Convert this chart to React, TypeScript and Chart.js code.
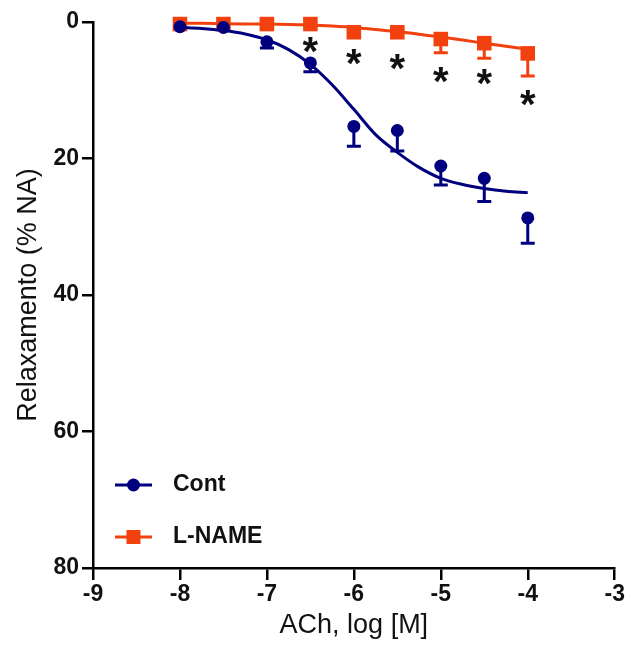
import { useEffect, useRef } from "react";
import { Chart, registerables } from "chart.js";

Chart.register(...registerables);

// Concentrations (log M) at which responses were measured
const doses = [-8, -7.5, -7, -6.5, -6, -5.5, -5, -4.5, -4];

// Cont: mean response and end of (one-sided) SEM bar
const contMean = [0.7, 0.8, 2.9, 6.0, 15.3, 15.9, 21.1, 22.9, 28.7];
const contErrEnd = [0.7, 0.8, 3.8, 7.3, 18.2, 18.9, 23.9, 26.3, 32.4];

// L-NAME: mean response and end of SEM bar
const lnameMean = [0.3, 0.3, 0.3, 0.3, 1.5, 1.5, 2.5, 3.1, 4.6];
const lnameErrEnd = [0.3, 0.3, 0.3, 0.3, 1.5, 1.5, 4.5, 5.3, 7.9];

// Fitted curves
const fitX = [-8, -7.75, -7.5, -7.25, -7, -6.75, -6.5, -6.25, -6, -5.75, -5.5, -5.25, -5, -4.75, -4.5, -4.25, -4];
const contFit = [0.8, 0.95, 1.25, 1.75, 2.6, 4.05, 6.2, 9.2, 12.8, 16.5, 19.1, 21.3, 22.9, 23.8, 24.4, 24.8, 25.0];
const lnameFit = [0.2, 0.2, 0.25, 0.28, 0.3, 0.35, 0.45, 0.6, 0.8, 1.1, 1.4, 1.8, 2.2, 2.65, 3.1, 3.55, 4.0];

// Significance asterisks
const starDoses = [-6.5, -6, -5.5, -5, -4.5, -4];
const starLevels = [3.4, 5.1, 5.9, 7.7, 8.1, 11.2];

// Axes
const xMin = -9;
const xMax = -3;
const yMin = 0;
const yMax = 80;

const NAVY = "#00007f";
const RED = "#f2400e";
const FONT = "'Liberation Sans', Arial, Helvetica, sans-serif";

const seriesNames = ["Cont", "L-NAME"];

function toPoints(xs: number[], ys: number[]) {
  return xs.map((x, i) => ({ x, y: ys[i] }));
}

const overlayPlugin = {
  id: "overlay",
  beforeDatasetsDraw(chart: any) {
    const { ctx, scales } = chart;
    const xs = scales.x;
    const ys = scales.y;
    const drawErr = (means: number[], ends: number[], color: string) => {
      ctx.save();
      ctx.strokeStyle = color;
      ctx.lineWidth = 3;
      ctx.lineCap = "butt";
      doses.forEach((d, i) => {
        if (ends[i] === means[i]) return;
        const px = xs.getPixelForValue(d);
        const p0 = ys.getPixelForValue(means[i]);
        const p1 = ys.getPixelForValue(ends[i]);
        ctx.beginPath();
        ctx.moveTo(px, p0);
        ctx.lineTo(px, p1);
        ctx.moveTo(px - 7, p1);
        ctx.lineTo(px + 7, p1);
        ctx.stroke();
      });
      ctx.restore();
    };
    drawErr(lnameMean, lnameErrEnd, RED);
    drawErr(contMean, contErrEnd, NAVY);
  },
  afterDatasetsDraw(chart: any) {
    const { ctx, scales, chartArea } = chart;
    const xs = scales.x;
    const ys = scales.y;
    ctx.save();
    // asterisks
    ctx.fillStyle = "#111";
    ctx.font = `bold 40px ${FONT}`;
    ctx.textAlign = "center";
    ctx.textBaseline = "alphabetic";
    const m = ctx.measureText("*");
    const off = (m.actualBoundingBoxDescent - m.actualBoundingBoxAscent) / 2;
    starDoses.forEach((d, i) => {
      const px = xs.getPixelForValue(d);
      const py = ys.getPixelForValue(starLevels[i]);
      ctx.fillText("*", px, py - off);
    });

    // legend
    const lx0 = chartArea.left + 22;
    const lx1 = chartArea.left + 59;
    const lmid = (lx0 + lx1) / 2;
    const rows = [chartArea.bottom - 83, chartArea.bottom - 31];
    const colors = [NAVY, RED];
    rows.forEach((ry, i) => {
      ctx.strokeStyle = colors[i];
      ctx.fillStyle = colors[i];
      ctx.lineWidth = 3;
      ctx.beginPath();
      ctx.moveTo(lx0, ry);
      ctx.lineTo(lx1, ry);
      ctx.stroke();
      if (i === 0) {
        ctx.beginPath();
        ctx.arc(lmid, ry, 6.5, 0, Math.PI * 2);
        ctx.fill();
      } else {
        ctx.fillRect(lmid - 7, ry - 7, 14, 14);
      }
      ctx.fillStyle = "#111";
      ctx.font = `bold 23px ${FONT}`;
      ctx.textAlign = "left";
      ctx.textBaseline = "middle";
      ctx.fillText(seriesNames[i], chartArea.left + 80, ry);
    });
    ctx.restore();
  },
};

export default function App() {
  const canvasRef = useRef<HTMLCanvasElement | null>(null);

  useEffect(() => {
    document.body.style.margin = "0";
    const canvas = canvasRef.current;
    if (!canvas) return;
    const chart = new Chart(canvas, {
      type: "line",
      data: {
        datasets: [
          {
            label: "Cont",
            data: toPoints(doses, contMean),
            showLine: false,
            pointStyle: "circle",
            pointRadius: 6.5,
            pointBackgroundColor: NAVY,
            pointBorderColor: NAVY,
            pointBorderWidth: 0,
            borderColor: NAVY,
            clip: false,
          } as any,
          {
            label: "Cont fit",
            data: toPoints(fitX, contFit),
            borderColor: NAVY,
            borderWidth: 3,
            pointRadius: 0,
            cubicInterpolationMode: "monotone",
            clip: false,
          } as any,
          {
            label: "L-NAME",
            data: toPoints(doses, lnameMean),
            showLine: false,
            pointStyle: "rect",
            pointRadius: 10.3,
            pointBackgroundColor: RED,
            pointBorderColor: RED,
            pointBorderWidth: 0,
            borderColor: RED,
            clip: false,
          } as any,
          {
            label: "L-NAME fit",
            data: toPoints(fitX, lnameFit),
            borderColor: RED,
            borderWidth: 3,
            pointRadius: 0,
            cubicInterpolationMode: "monotone",
            clip: false,
          } as any,
        ],
      },
      options: {
        animation: false,
        responsive: true,
        maintainAspectRatio: false,
        events: [],
        layout: { padding: { top: 22, right: 9, left: 0, bottom: 0 } },
        plugins: {
          legend: { display: false },
          tooltip: { enabled: false },
        },
        scales: {
          x: {
            type: "linear",
            min: xMin,
            max: xMax,
            ticks: {
              stepSize: 1,
              color: "#111",
              font: { family: FONT, size: 23, weight: "bold" },
              padding: 1,
            },
            grid: {
              drawOnChartArea: false,
              drawTicks: true,
              tickLength: 12,
              color: "#000",
              lineWidth: 2.5,
            },
            border: { display: true, color: "#000", width: 2.5 },
            title: {
              display: true,
              text: "ACh, log [M]",
              color: "#111",
              font: { family: FONT, size: 27 },
              padding: { top: 0, bottom: 7 },
            },
            afterFit(scale: any) {
              scale.height = 81;
              scale.paddingLeft = 0;
              scale.paddingRight = 0;
            },
          },
          y: {
            type: "linear",
            min: yMin,
            max: yMax,
            reverse: true,
            ticks: {
              stepSize: 20,
              color: "#111",
              font: { family: FONT, size: 23, weight: "bold" },
              padding: 3,
            },
            grid: {
              drawOnChartArea: false,
              drawTicks: true,
              tickLength: 11,
              color: "#000",
              lineWidth: 2.5,
            },
            border: { display: true, color: "#000", width: 2.5 },
            title: {
              display: true,
              text: "Relaxamento (% NA)",
              color: "#111",
              font: { family: FONT, size: 27 },
              padding: { top: 12, bottom: 0 },
            },
            afterFit(scale: any) {
              scale.width = 93;
              scale.paddingTop = 0;
              scale.paddingBottom = 0;
            },
          },
        },
      } as any,
      plugins: [overlayPlugin],
    });
    return () => chart.destroy();
  }, []);

  return (
    <div style={{ width: 625, height: 649, position: "relative" }}>
      <canvas ref={canvasRef} style={{ display: "block" }} />
    </div>
  );
}
